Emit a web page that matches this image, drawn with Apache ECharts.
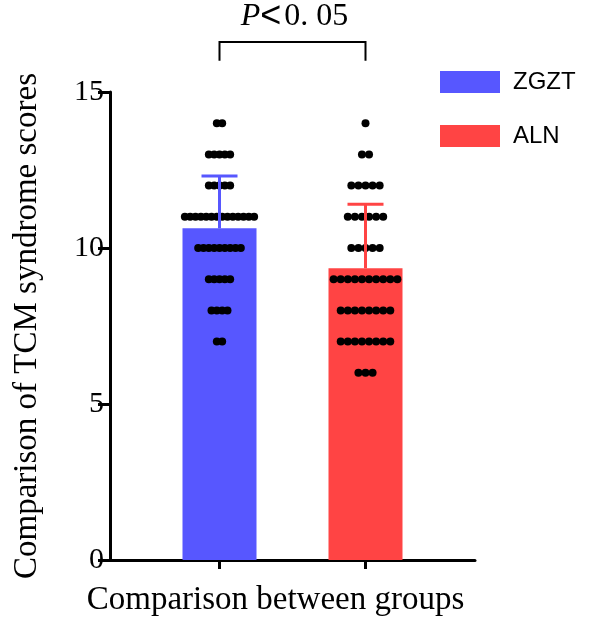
<!DOCTYPE html>
<html><head><meta charset="utf-8">
<script src="https://cdn.jsdelivr.net/npm/echarts@6/dist/echarts.min.js"></script>
<style>html,body{margin:0;padding:0;background:#fff}#c{width:600px;height:620px}</style>
</head><body><div id="c"></div>
<script>
// ---- data ----
const groups = ['ZGZT', 'ALN'];
const groupColors = ['#5757FF', '#FF4444'];
const means = [10.63, 9.35];
const sds = [1.68, 2.05];
const scoresZGZT = [14,14, 13,13,13,13,13, 12,12,12,12,12,
  11,11,11,11,11,11,11,11,11,11,11,11,11,11,
  10,10,10,10,10,10,10,10,10, 9,9,9,9,9, 8,8,8,8, 7,7];
const scoresALN = [14, 13,13, 12,12,12,12,12, 11,11,11,11,11,11,
  10,10,10,10,10, 9,9,9,9,9,9,9,9,9,9, 8,8,8,8,8,8,8,8,
  7,7,7,7,7,7,7,7, 6,6,6];
const yTicks = [0, 5, 10, 15];
const pParts = ['P', '<', '0. 05'];

// ---- layout ----
const groupX = [1.5, 3.5];        // centres on hidden 0..5 x-scale
const dotStep = [0.073, 0.097];   // horizontal dot spacing (x units)
const serif = 'Liberation Serif';
const sans = 'Liberation Sans';

function swarm(scores, cx, step) {
  const byLevel = {};
  scores.forEach(v => { (byLevel[v] = byLevel[v] || []).push(v); });
  const pts = [];
  Object.keys(byLevel).forEach(k => {
    const arr = byLevel[k], n = arr.length;
    arr.forEach((v, i) => pts.push([cx + (i - (n - 1) / 2) * step, v]));
  });
  return pts;
}

const chart = echarts.init(document.getElementById('c'), null, {renderer: 'canvas'});
const series = [];
groups.forEach((g, i) => {
  series.push({
    name: g, type: 'bar', barWidth: 74, barGap: '-100%',
    itemStyle: {color: groupColors[i], borderRadius: 0}, z: 1,
    data: [[groupX[i], means[i]]]
  });
});
series.push({
  type: 'scatter', symbolSize: 8, z: 3, silent: true,
  itemStyle: {color: '#000', opacity: 1},
  data: swarm(scoresZGZT, groupX[0], dotStep[0]).concat(swarm(scoresALN, groupX[1], dotStep[1]))
});
series.push({
  type: 'custom', z: 5, silent: true,
  data: groups.map((g, i) => [groupX[i], means[i], sds[i], i]),
  renderItem: function (params, api) {
    const x = api.value(0), m = api.value(1), s = api.value(2), idx = api.value(3);
    const p0 = api.coord([x, m]), p1 = api.coord([x, m + s]);
    const col = groupColors[idx];
    const st = {stroke: col, lineWidth: 3};
    return {type: 'group', children: [
      {type: 'line', shape: {x1: p0[0], y1: p0[1], x2: p1[0], y2: p1[1]}, style: st},
      {type: 'line', shape: {x1: p1[0] - 18, y1: p1[1], x2: p1[0] + 18, y2: p1[1]}, style: st}
    ]};
  }
});
// significance bracket
series.push({
  type: 'custom', z: 5, silent: true, clip: false,
  data: [[groupX[0], groupX[1], 16.0, 16.6]],
  renderItem: function (params, api) {
    const a = api.coord([api.value(0), api.value(3)]);
    const b = api.coord([api.value(1), api.value(3)]);
    const a0 = api.coord([api.value(0), api.value(2)]);
    const st = {stroke: '#000', lineWidth: 2, fill: null};
    return {type: 'group', children: [
      {type: 'polyline', shape: {points: [[a[0], a0[1]], a, b, [b[0], a0[1]]]}, style: st},
      {type: 'text', style: {
        x: (a[0] + b[0]) / 2 + 2, y: a[1] - 7, align: 'center', verticalAlign: 'bottom',
        text: '{i|' + pParts[0] + '}{l|' + pParts[1] + '}{n|' + pParts[2] + '}',
        rich: {
          i: {fontFamily: serif, fontStyle: 'italic', fontSize: 32, fill: '#000'},
          l: {fontFamily: sans, fontSize: 36, fill: '#000', padding: [0, 3, 0, 0]},
          n: {fontFamily: serif, fontSize: 32, fill: '#000'}
        }
      }}
    ]};
  }
});

chart.setOption({
  animation: false,
  backgroundColor: '#fff',
  grid: {left: 110, right: 125, top: 92, bottom: 60, containLabel: false, outerBoundsMode: 'none'},
  legend: {
    data: groups, orient: 'vertical', left: 440, top: 70, padding: 0,
    icon: 'rect',
    itemWidth: 60, itemHeight: 22, itemGap: 30,
    textStyle: {fontFamily: sans, fontSize: 24, color: '#000', padding: [0, 0, 0, 8]},
    selectedMode: false
  },
  xAxis: {
    type: 'value', min: 0, max: 5,
    name: 'Comparison between groups', nameLocation: 'middle', nameGap: 24,
    nameTextStyle: {fontFamily: serif, fontSize: 33, color: '#000', padding: [0, 34, 0, 0]},
    axisLine: {lineStyle: {color: '#000', width: 3}},
    axisTick: {show: true, customValues: groupX, length: 9, lineStyle: {color: '#000', width: 3}},
    axisLabel: {show: false},
    splitLine: {show: false}
  },
  yAxis: {
    type: 'value', min: 0, max: 15, interval: 5,
    name: 'Comparison of TCM syndrome scores', nameLocation: 'middle', nameGap: 66,
    nameTextStyle: {fontFamily: serif, fontSize: 33, color: '#000'},
    axisLine: {show: true, lineStyle: {color: '#000', width: 3}},
    axisTick: {show: true, length: 12, lineStyle: {color: '#000', width: 3}},
    axisLabel: {fontFamily: serif, fontSize: 30, color: '#000', margin: 6,
      customValues: yTicks},
    splitLine: {show: false}
  },
  series: series
});
</script></body></html>
